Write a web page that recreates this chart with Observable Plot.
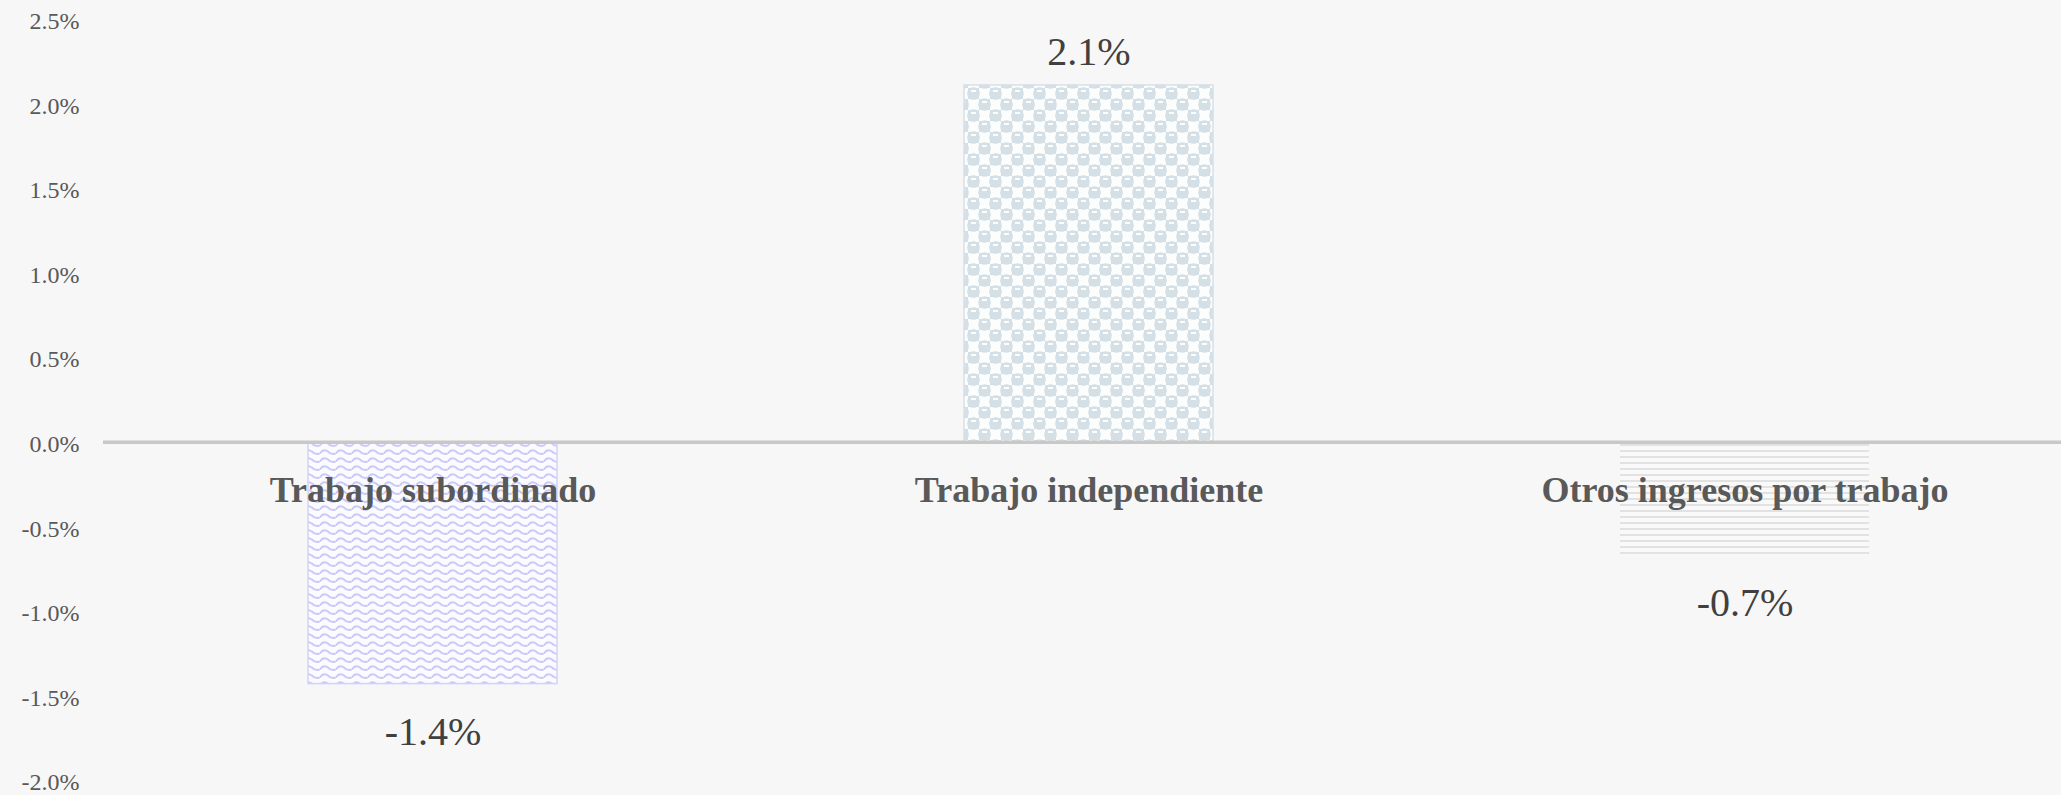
<!DOCTYPE html>
<html>
<head>
<meta charset="utf-8">
<script src="https://cdn.jsdelivr.net/npm/d3@7"></script>
<script src="https://cdn.jsdelivr.net/npm/@observablehq/plot@0.6"></script>
<style>
  html, body { margin: 0; padding: 0; background: #f7f7f7; }
  #chart svg { display: block; }
</style>
</head>
<body>
<div id="chart"></div>
<script>
// ---- Data ----
const categories = ["Trabajo subordinado", "Trabajo independiente", "Otros ingresos por trabajo"];
const values = [-1.43, 2.11, -0.67];
const valueLabels = ["-1.4%", "2.1%", "-0.7%"];
const yTicks = [-2.0, -1.5, -1.0, -0.5, 0.0, 0.5, 1.0, 1.5, 2.0, 2.5];

// ---- Styles (kept apart from data) ----
const fills = {
  "Trabajo subordinado": "url(#wave)",
  "Trabajo independiente": "url(#sphere)",
  "Otros ingresos por trabajo": "url(#hlines)"
};
const strokes = {
  "Trabajo subordinado": "#d2d2fb",
  "Trabajo independiente": "#d6e0e7",
  "Otros ingresos por trabajo": "none"
};

const rows = categories.map((c, i) => ({category: c, value: values[i], label: valueLabels[i]}));

const serif = "'Liberation Serif', 'DejaVu Serif', serif";

const chart = Plot.plot({
  width: 2061,
  height: 795,
  marginLeft: 103,
  marginRight: 0,
  marginTop: 19,
  marginBottom: 15,
  style: {background: "#f7f7f7", fontFamily: serif},
  x: {domain: categories, range: [104, 2073], paddingInner: 0.62, paddingOuter: 0.31, axis: null},
  y: {domain: [-2, 2.5], ticks: yTicks},
  marks: [
    Plot.axisY({
      ticks: yTicks,
      tickSize: 0,
      tickPadding: 24,
      tickFormat: d => d.toFixed(1) + "%",
      fontSize: 24,
      fill: "#595959",
      dy: 2,
      label: null
    }),
    Plot.barY(rows, {
      x: "category",
      y: "value",
      fill: d => fills[d.category],
      stroke: d => strokes[d.category],
      strokeWidth: 1.5
    }),
    Plot.ruleY([0], {stroke: "#c8c8c8", strokeWidth: 3.5}),
    Plot.text(rows, {
      x: "category",
      y: () => 0,
      text: "category",
      dy: 48,
      fontSize: 36,
      fontWeight: "bold",
      fill: "#595959",
      fontFamily: serif
    }),
    Plot.text(rows.filter(d => d.value >= 0), {
      x: "category",
      y: "value",
      text: "label",
      dy: -33,
      fontSize: 40,
      fill: "#404040",
      fontFamily: serif
    }),
    Plot.text(rows.filter(d => d.value < 0), {
      x: "category",
      y: "value",
      text: "label",
      dy: 48,
      fontSize: 40,
      fill: "#404040",
      fontFamily: serif
    })
  ]
});

// Pattern definitions
const defs = `
<pattern id="wave" patternUnits="userSpaceOnUse" width="16" height="8">
  <rect width="16" height="8" fill="#fbfbff"/>
  <path d="M0,5.5 C2.7,1.5 5.3,1.5 8,3.5 C10.7,6.5 13.3,6.5 16,5.5" fill="none" stroke="#cacafa" stroke-width="2"/>
</pattern>
<pattern id="sphere" patternUnits="userSpaceOnUse" width="22" height="22">
  <rect width="22" height="22" fill="#fcfdfd"/>
  <rect x="0" y="0" width="11" height="11" fill="#d5dfe6"/>
  <rect x="11" y="11" width="11" height="11" fill="#d5dfe6"/>
  <circle cx="5.5" cy="5.5" r="6.3" fill="#d5dfe6"/>
  <circle cx="16.5" cy="16.5" r="6.3" fill="#d5dfe6"/>
  <circle cx="-5.5" cy="16.5" r="6.3" fill="#d5dfe6"/>
  <circle cx="27.5" cy="5.5" r="6.3" fill="#d5dfe6"/>
  <circle cx="16.5" cy="-5.5" r="6.3" fill="#d5dfe6"/>
  <circle cx="5.5" cy="27.5" r="6.3" fill="#d5dfe6"/>
  <rect x="3" y="2" width="5" height="2" fill="#fcfdfd"/>
  <rect x="14" y="13" width="5" height="2" fill="#fcfdfd"/>
</pattern>
<pattern id="hlines" patternUnits="userSpaceOnUse" width="8" height="6">
  <rect width="8" height="6" fill="#f9f9f9"/>
  <rect x="0" y="0" width="8" height="2" fill="#e2e2e2"/>
</pattern>`;
const defsEl = document.createElementNS("http://www.w3.org/2000/svg", "defs");
defsEl.innerHTML = defs;
chart.insertBefore(defsEl, chart.firstChild);

document.getElementById("chart").appendChild(chart);
</script>
</body>
</html>
